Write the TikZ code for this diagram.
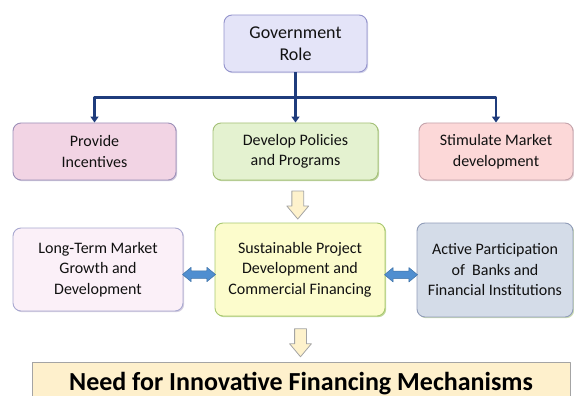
\documentclass[tikz,border=0pt]{standalone}
\usepackage{fontspec}
\setmainfont{Carlito}
\usetikzlibrary{arrows.meta,shapes.arrows,shadows,calc}
\definecolor{ink}{HTML}{111111}
\definecolor{navy}{HTML}{1F3C7C}
\definecolor{govfill}{HTML}{E4E4F8}
\definecolor{govline}{HTML}{9494CC}
\definecolor{incfill}{HTML}{F2D4E4}
\definecolor{incline}{HTML}{9C90B8}
\definecolor{polfill}{HTML}{E4F2D0}
\definecolor{polline}{HTML}{A4C078}
\definecolor{stimfill}{HTML}{FCD8D8}
\definecolor{stimline}{HTML}{C4A4AC}
\definecolor{longfill}{HTML}{FBF0F8}
\definecolor{longline}{HTML}{A8A8D0}
\definecolor{susfill}{HTML}{FCFCCC}
\definecolor{susline}{HTML}{A8C870}
\definecolor{actfill}{HTML}{D4DCE8}
\definecolor{actline}{HTML}{909CB8}
\definecolor{needfill}{HTML}{FEF0CC}
\definecolor{needline}{HTML}{A4A4A4}
\definecolor{hollowfill}{HTML}{FEF2CC}
\definecolor{bluearrow}{HTML}{4F8ED0}
\tikzset{
  every picture/.style={line join=round, >=Stealth},
  box/.style={rounded corners=8pt, line width=0.9pt, align=center, text=ink,
    font=\fontsize{16}{20.5}\selectfont, inner sep=2pt},
  shade/.style={drop shadow={shadow xshift=1.2pt, shadow yshift=-1.2pt, fill=#1, opacity=.7}},
  link/.style={draw=navy, line width=2.4pt},
  linktip/.style={-{Triangle[width=8pt,length=6pt]}},
  hollow/.style={single arrow, draw=needline, fill=hollowfill, line width=0.8pt,
    minimum height=28pt, inner sep=5.5pt, single arrow head extend=5pt, single arrow tip angle=80},
  both/.style={double arrow, draw=bluearrow!80!black, fill=bluearrow, line width=0.5pt,
    minimum height=33pt, inner sep=3.5pt, double arrow head extend=3.5pt, double arrow tip angle=80},
}

\begin{document}
\begin{tikzpicture}[x=1pt,y=-1pt]
\useasboundingbox (0,0) rectangle (574,396);
% top of the tree
\node[box,draw=govline,fill=govfill,shade=govline!60,minimum width=143pt,minimum height=57pt,
  font=\fontsize{18}{22}\selectfont] (gov) at (295.5,43.5) {Government\\Role};
\node[box,draw=incline,fill=incfill,shade=incline!70,minimum width=163pt,minimum height=57pt] (inc) at (94.5,151.5) {Provide\\Incentives};
\node[box,draw=polline,fill=polfill,shade=polline,minimum width=165pt,minimum height=57pt] (pol) at (295.5,151.5) {Develop Policies\\and Programs};
\node[box,draw=stimline,fill=stimfill,shade=stimline!70,minimum width=154pt,minimum height=57pt] (stim) at (496,151.5) {Stimulate Market\\development};
% middle row
\node[box,draw=longline,fill=longfill,shade=incline!60,minimum width=170pt,minimum height=83pt] (long) at (98,269.5) {Long-Term Market\\Growth and\\Development};
\node[box,draw=susline,fill=susfill,shade=susline,minimum width=170pt,minimum height=93pt] (sus) at (300,269.5) {Sustainable Project\\Development and\\Commercial Financing};
\node[box,draw=actline,fill=actfill,shade=polline!80,minimum width=156pt,minimum height=94pt] (act) at (495,270) {Active Participation\\of~ Banks and\\Financial Institutions};
% bottom banner
\node[draw=needline,fill=needfill,line width=0.9pt,minimum width=538pt,minimum height=42pt,text=black,
  font=\fontsize{26}{30}\selectfont\bfseries] (need) at (301,383.5) {Need for Innovative Financing Mechanisms};
% connectors
\coordinate (bus) at ($(gov.south)+(0,25)$);
\draw[link] (gov.south) -- (bus);
\draw[link,linktip] (bus) -- (pol.north);
\draw[link,linktip] (bus) -| (inc.north);
\draw[link,linktip] (bus) -| (stim.north);
\node[hollow,rotate=-90] (down1) at ($(pol.south)!.5!(sus.north)$) {};
\node[hollow,rotate=-90] (down2) at ($(sus.south)!.5!(need.north)$) {};
\node[both] (lr1) at ($(long.east)!.5!(sus.west)+(0,5)$) {};
\node[both] (lr2) at ($(sus.east)!.5!(act.west)+(0,5)$) {};
\end{tikzpicture}
\end{document}
